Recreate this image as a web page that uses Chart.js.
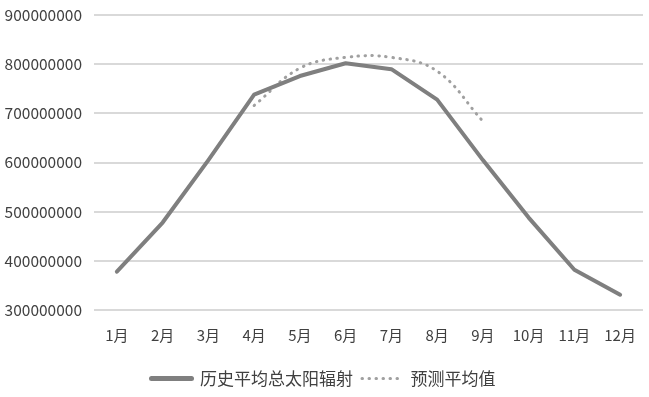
<!DOCTYPE html>
<html><head><meta charset="utf-8">
<script src="https://cdn.jsdelivr.net/npm/chart.js@4.4.0/dist/chart.umd.min.js"></script>
<style>html,body{margin:0;padding:0;background:#fff;}#wrap{width:649px;height:397px;}</style>
</head><body><div id="wrap"><canvas id="c" width="649" height="397"></canvas></div>
<script>
const months = ['1月','2月','3月','4月','5月','6月','7月','8月','9月','10月','11月','12月'];
const historyName = '历史平均总太阳辐射';
const forecastName = '预测平均值';
const historyValues = [378000000, 478000000, 605000000, 738000000, 776000000, 802000000, 790000000, 728000000, 605000000, 488000000, 382000000, 331000000];
const forecastValues = [null, null, null, 716000000, 792000000, 814000000, 814000000, 786000000, 684000000, null, null, null];
const yTicks = [300000000, 400000000, 500000000, 600000000, 700000000, 800000000, 900000000];

const font = "'Noto Sans CJK SC', 'Liberation Sans', sans-serif";
function draw() {
new Chart(document.getElementById('c'), {
  type: 'line',
  data: {
    labels: months,
    datasets: [
      {label: historyName, data: historyValues, borderColor: '#7f7f7f', backgroundColor: '#7f7f7f', borderWidth: 4, pointRadius: 0, tension: 0, borderCapStyle: 'round', borderJoinStyle: 'round'},
      {label: forecastName, data: forecastValues, borderColor: '#a0a0a0', backgroundColor: '#a0a0a0', borderWidth: 3, borderDash: [0.5, 6.5], borderCapStyle: 'round', pointRadius: 0, tension: 0.4, spanGaps: false}
    ]
  },
  options: {
    responsive: false, animation: false, devicePixelRatio: 1,
    layout: {padding: {top: 0, right: 6, left: 4, bottom: 0}},
    plugins: {
      legend: {position: 'bottom', labels: {usePointStyle: true, pointStyle: 'line', pointStyleWidth: 40, boxHeight: 5, color: '#404040', font: {family: font, size: 17}, padding: 9,
        generateLabels: chart => Chart.defaults.plugins.legend.labels.generateLabels(chart).map((it, i) => {
          const ds = chart.data.datasets[i];
          return Object.assign({}, it, {lineDash: ds.borderDash || [], lineCap: ds.borderCapStyle || 'butt', lineWidth: i === 0 ? 5 : 3, strokeStyle: ds.borderColor});
        })}},
      tooltip: {enabled: false}
    },
    scales: {
      x: {offset: true, grid: {display: false, drawTicks: false}, border: {display: false},
          afterFit: s => { s.paddingLeft = 0; s.paddingRight = 0; },
          ticks: {color: '#404040', font: {family: font, size: 15, lineHeight: 0.2}, padding: 24, maxRotation: 0}},
      y: {min: yTicks[0], max: yTicks[yTicks.length - 1], afterBuildTicks: a => { a.ticks = yTicks.map(v => ({value: v})); },
          afterFit: s => { s.width = 90; },
          grid: {color: '#d9d9d9', lineWidth: 2, drawTicks: false}, border: {display: false},
          ticks: {color: '#404040', font: {family: font, size: 15.5, lineHeight: 0.4}, padding: 12, callback: v => String(v)}}
    }
  }
});
}
if (document.fonts && document.fonts.load) {
  Promise.all([document.fonts.load("17px 'Noto Sans CJK SC'", '历史0'), document.fonts.load("15px 'Liberation Sans'", '0')]).then(draw, draw);
} else { draw(); }
</script></body></html>
